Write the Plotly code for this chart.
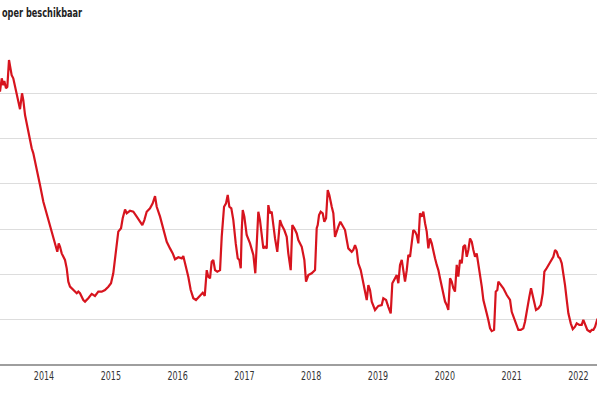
import plotly.graph_objects as go

# Decimal-year positions and values
years = [
    2013.341, 2013.367, 2013.391, 2013.406, 2013.431, 2013.451, 2013.476, 2013.491, 2013.516, 2013.540,
    2013.581, 2013.615, 2013.641, 2013.671, 2013.690, 2013.716, 2013.765, 2013.816, 2013.840, 2013.891,
    2013.940, 2013.990, 2014.040, 2014.090, 2014.139, 2014.180, 2014.199, 2014.220, 2014.240, 2014.265,
    2014.314, 2014.340, 2014.364, 2014.389, 2014.439, 2014.490, 2014.514, 2014.539, 2014.588, 2014.614,
    2014.663, 2014.714, 2014.763, 2014.813, 2014.864, 2014.913, 2014.963, 2015.003, 2015.037, 2015.063,
    2015.088, 2015.112, 2015.153, 2015.178, 2015.213, 2015.238, 2015.287, 2015.337, 2015.388, 2015.437,
    2015.472, 2015.502, 2015.537, 2015.587, 2015.627, 2015.662, 2015.687, 2015.737, 2015.786, 2015.837,
    2015.886, 2015.927, 2015.961, 2016.011, 2016.062, 2016.085, 2016.111, 2016.160, 2016.196, 2016.235,
    2016.275, 2016.310, 2016.346, 2016.376, 2016.406, 2016.436, 2016.459, 2016.485, 2016.510, 2016.534,
    2016.560, 2016.594, 2016.635, 2016.660, 2016.695, 2016.725, 2016.750, 2016.774, 2016.804, 2016.834,
    2016.870, 2016.900, 2016.924, 2016.945, 2016.960, 2016.975, 2016.999, 2017.034, 2017.084, 2017.134,
    2017.163, 2017.184, 2017.208, 2017.233, 2017.259, 2017.283, 2017.308, 2017.334, 2017.358, 2017.383,
    2017.408, 2017.433, 2017.458, 2017.492, 2017.533, 2017.558, 2017.597, 2017.633, 2017.657, 2017.693,
    2017.717, 2017.747, 2017.783, 2017.807, 2017.858, 2017.897, 2017.922, 2017.957, 2018.007, 2018.057,
    2018.082, 2018.097, 2018.117, 2018.142, 2018.172, 2018.196, 2018.222, 2018.247, 2018.271, 2018.307,
    2018.331, 2018.356, 2018.382, 2018.406, 2018.436, 2018.471, 2018.506, 2018.532, 2018.555, 2018.606,
    2018.630, 2018.656, 2018.681, 2018.705, 2018.741, 2018.771, 2018.805, 2018.831, 2018.855, 2018.880,
    2018.906, 2018.955, 2019.005, 2019.055, 2019.079, 2019.120, 2019.154, 2019.190, 2019.214, 2019.240,
    2019.265, 2019.280, 2019.304, 2019.329, 2019.355, 2019.379, 2019.404, 2019.430, 2019.454, 2019.479,
    2019.504, 2019.528, 2019.554, 2019.579, 2019.603, 2019.628, 2019.654, 2019.678, 2019.704, 2019.729,
    2019.753, 2019.778, 2019.804, 2019.828, 2019.853, 2019.879, 2019.903, 2019.928, 2019.953, 2019.977,
    2020.003, 2020.028, 2020.052, 2020.078, 2020.103, 2020.127, 2020.152, 2020.178, 2020.202, 2020.227,
    2020.253, 2020.277, 2020.302, 2020.328, 2020.352, 2020.377, 2020.403, 2020.427, 2020.452, 2020.477,
    2020.502, 2020.527, 2020.553, 2020.577, 2020.602, 2020.627, 2020.651, 2020.677, 2020.702, 2020.737,
    2020.762, 2020.786, 2020.801, 2020.841, 2020.876, 2020.927, 2020.976, 2021.001, 2021.036, 2021.066,
    2021.100, 2021.136, 2021.175, 2021.200, 2021.235, 2021.265, 2021.290, 2021.316, 2021.340, 2021.365,
    2021.400, 2021.436, 2021.466, 2021.490, 2021.515, 2021.550, 2021.575, 2021.600, 2021.624, 2021.650,
    2021.675, 2021.699, 2021.724, 2021.750, 2021.774, 2021.799, 2021.825, 2021.849, 2021.885, 2021.915,
    2021.949, 2021.974, 2022.013, 2022.049, 2022.073, 2022.099, 2022.133, 2022.174, 2022.199, 2022.223,
    2022.249, 2022.279, 2022.300,
]

values = [
    12.07, 12.66, 12.36, 12.54, 12.22, 12.29, 13.47, 13.25, 12.80, 12.66,
    12.07, 11.62, 11.30, 12.00, 11.70, 11.04, 10.30, 9.57, 9.35, 8.68,
    7.95, 7.21, 6.70, 6.18, 5.66, 5.30, 5.00, 5.37, 5.22, 4.93,
    4.64, 4.27, 3.68, 3.46, 3.31, 3.17, 3.24, 3.17, 2.87, 2.80,
    2.95, 3.14, 3.05, 3.24, 3.24, 3.31, 3.46, 3.61, 4.05, 4.78,
    5.37, 5.89, 6.04, 6.48, 6.87, 6.70, 6.81, 6.77, 6.55, 6.33,
    6.18, 6.40, 6.77, 6.92, 7.14, 7.46, 6.99, 6.55, 5.96, 5.44,
    5.15, 4.93, 4.67, 4.76, 4.71, 4.81, 4.49, 3.90, 3.31, 2.95,
    2.87, 2.99, 3.09, 3.19, 3.05, 4.19, 3.90, 3.83, 4.56, 4.64,
    4.19, 4.12, 4.19, 5.66, 6.99, 7.14, 7.51, 6.99, 6.92, 6.40,
    5.37, 4.71, 4.64, 4.27, 5.96, 6.84, 6.55, 5.74, 5.37, 4.86,
    4.05, 5.66, 6.77, 6.40, 5.66, 5.15, 5.22, 5.15, 7.06, 6.70,
    6.77, 6.11, 5.59, 5.00, 6.40, 6.18, 5.96, 5.66, 4.93, 4.19,
    6.18, 6.04, 5.81, 5.52, 5.22, 4.64, 3.68, 3.97, 4.05, 4.19,
    6.04, 6.18, 6.62, 6.77, 6.70, 6.33, 6.48, 7.73, 7.51, 6.99,
    6.70, 5.66, 5.96, 6.11, 6.33, 6.11, 5.96, 5.52, 5.15, 5.00,
    5.08, 5.30, 5.08, 4.49, 4.19, 3.75, 3.31, 2.87, 3.53, 3.31,
    2.80, 2.43, 2.61, 2.65, 2.95, 2.87, 2.57, 2.28, 3.61, 3.75,
    3.83, 3.97, 3.61, 4.42, 4.64, 4.12, 3.68, 4.19, 4.86, 4.78,
    5.30, 5.96, 5.89, 5.74, 5.37, 6.70, 6.55, 6.77, 6.26, 5.89,
    5.15, 5.59, 5.37, 5.00, 4.71, 4.42, 4.19, 3.83, 3.46, 3.02,
    2.80, 2.65, 2.43, 3.83, 3.68, 3.39, 3.24, 4.42, 3.90, 4.64,
    4.49, 5.22, 5.30, 4.78, 5.08, 5.59, 5.44, 5.08, 4.78, 4.93,
    4.49, 3.97, 3.46, 2.87, 2.50, 2.28, 1.99, 1.62, 1.50, 1.55,
    3.24, 3.31, 3.68, 3.53, 3.39, 3.09, 2.87, 2.35, 2.06, 1.77,
    1.55, 1.55, 1.62, 1.91, 2.57, 3.02, 3.39, 3.09, 2.80, 2.43,
    2.50, 2.65, 3.17, 4.12, 4.23, 4.42, 4.56, 4.71, 4.78, 5.08,
    5.00, 4.78, 4.71, 4.49, 4.05, 3.53, 2.87, 2.28, 1.84, 1.58,
    1.69, 1.84, 1.77, 1.77, 1.99, 1.77, 1.55, 1.47, 1.55, 1.55,
    1.69, 1.99, 2.10,
]

tick_years = [2014, 2015, 2016, 2017, 2018, 2019, 2020, 2021, 2022]
tick_labels = ["2014", "2015", "2016", "2017", "2018", "2019", "2020", "2021", "2022"]
grid_values = [0, 2, 4, 6, 8, 10, 12, 14]
title_text = "oper beschikbaar"

FONT = "DejaVu Sans Condensed, DejaVu Sans, sans-serif"

fig = go.Figure()
fig.add_trace(go.Scatter(
    x=years, y=values, mode="lines",
    line=dict(color="#d7141e", width=2.2),
    hoverinfo="skip", showlegend=False,
))

fig.update_layout(
    width=597, height=398,
    margin=dict(l=0, r=0, t=48, b=33),
    paper_bgcolor="white", plot_bgcolor="white",
    font=dict(family=FONT, size=12, color="#333333"),
    xaxis=dict(
        range=[2013.3413, 2022.2777],
        tickmode="array", tickvals=tick_years, ticktext=tick_labels,
        showgrid=False, zeroline=False, showline=False,
        ticks="", ticklabelstandoff=2,
        tickfont=dict(family=FONT, size=12, color="#333333"),
    ),
    yaxis=dict(
        range=[0, 14],
        tickmode="array", tickvals=grid_values,
        showticklabels=False,
        showgrid=True, gridcolor="#dddddd", gridwidth=1,
        zeroline=True, zerolinecolor="#9e9e9e", zerolinewidth=1.5,
        showline=False,
    ),
    annotations=[dict(
        text="<b>" + title_text + "</b>",
        xref="paper", yref="paper", x=0.0, y=1.0, yshift=36,
        xanchor="left", yanchor="middle", showarrow=False,
        font=dict(family=FONT, size=13, color="#222222"),
    )],
)

post = """
document.body.style.margin='0';
document.body.style.padding='0';
var gd = document.getElementById('{plot_id}');
gd.querySelectorAll('g.xtick').forEach(function(g){
  g.style.transformBox='fill-box'; g.style.transformOrigin='center';
  g.style.transform='scaleX(0.74)';
});
gd.querySelectorAll('.annotation-text').forEach(function(t){
  t.style.transformBox='fill-box'; t.style.transformOrigin='left center';
  t.style.transform='scaleX(0.7)';
});
"""

fig.write_html("out.html", config={"displayModeBar": False}, post_script=post)
